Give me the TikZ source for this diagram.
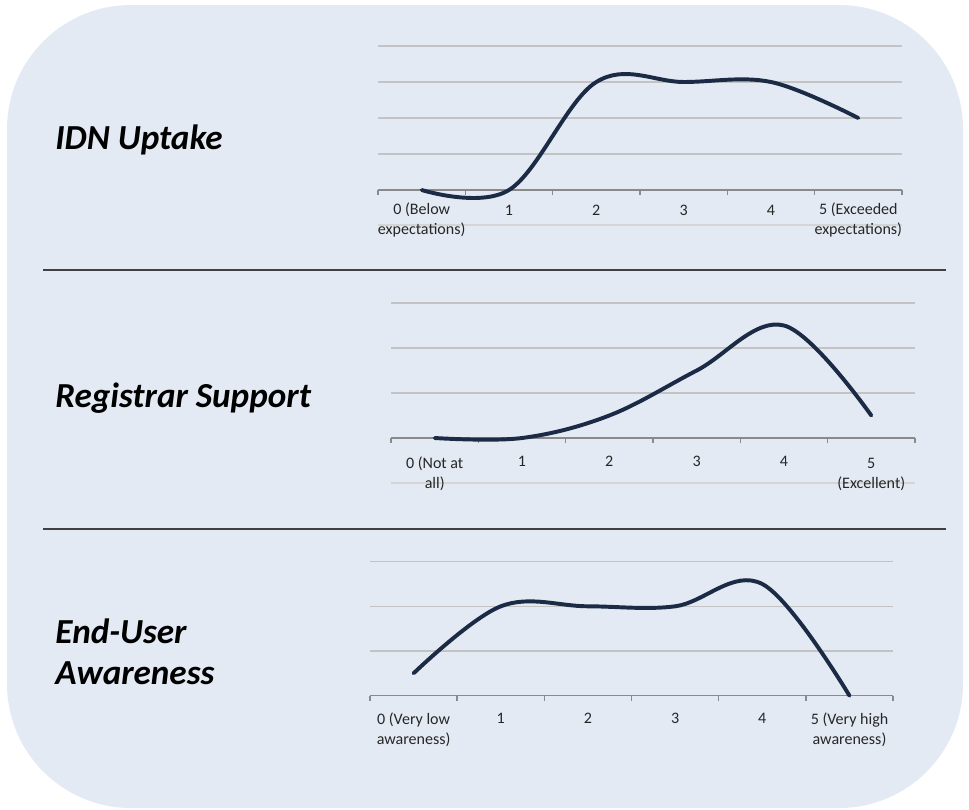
\documentclass[tikz,border=0pt]{standalone}
\usepackage{fontspec}
\setmainfont{Carlito}
\usepackage{tikz}
\usetikzlibrary{positioning}
\usepackage{xcolor}
\definecolor{panel}{HTML}{E4EAF4}
\definecolor{curve}{HTML}{1C2B45}
\definecolor{gridgray}{HTML}{C3C3C3}
\definecolor{axisgray}{HTML}{8A8A8A}

\begin{document}
\begin{tikzpicture}[x=0.025cm, y=-0.025cm,
	gridline/.style={draw=gridgray, line width=1.1pt},
	axisline/.style={draw=axisgray, line width=1.1pt},
	curveline/.style={draw=curve, line width=2.8pt, line cap=round},
	ticklabel/.style={font=\fontsize{11.4}{14.2}\selectfont, text=black!85, align=center, inner sep=0pt, anchor=base},
	heading/.style={font=\fontsize{25}{28.5}\selectfont\bfseries\itshape, inner sep=0pt, anchor=base west, align=left}]
\useasboundingbox (0,0) rectangle (969,810);
\fill[panel, rounded corners=3.1cm] (7,5) rectangle (963,808);

% separators
\draw[black!75, line width=1.4pt] (43,270) -- (946,270);
\draw[black!75, line width=1.4pt] (43,529) -- (946,529);

% headings
\node[heading] (uptake) at (55,149) {IDN Uptake};
\node[heading] (registrar) at (55,407) {Registrar Support};
\node[heading] (enduser) at (55,684) {End-User\\Awareness};

% IDN uptake chart
\foreach \gy in {46,82,118,154}
	\draw[gridline] (378,\gy) -- (902,\gy);
\draw[gridline, draw=gridgray!70] (378,225) -- (902,225);
\draw[axisline] (378,190) -- (902,190);
\foreach \i in {0,...,6}
	\draw[axisline] ({378+87.33*\i},190) -- ++(0,5);
\node[ticklabel] (ua) at (421.7,234) {0 (Below\\expectations)};
\node[ticklabel] (ub) at (509,215) {1};
\node[ticklabel] (uc) at (596.3,215) {2};
\node[ticklabel] (ud) at (683.7,215) {3};
\node[ticklabel] (ue) at (771,215) {4};
\node[ticklabel] (uf) at (858.3,234) {5 (Exceeded\\expectations)};
\draw[curveline] plot[smooth, tension=0.6] coordinates {(421.7,190) (509,190) (596.3,82) (683.7,82) (771,82) (858.3,118)};

% registrar support chart
\foreach \gy in {303,348,393}
	\draw[gridline] (391,\gy) -- (915,\gy);
\draw[gridline, draw=gridgray!70] (391,483) -- (915,483);
\draw[axisline] (391,438) -- (915,438);
\foreach \i in {0,...,6}
	\draw[axisline] ({391+87.33*\i},438) -- ++(0,5);
\node[ticklabel] (ra) at (434.7,488) {0 (Not at\\all)};
\node[ticklabel] (rb) at (522,466.5) {1};
\node[ticklabel] (rc) at (609.3,466.5) {2};
\node[ticklabel] (rd) at (696.7,466.5) {3};
\node[ticklabel] (re) at (784,466.5) {4};
\node[ticklabel] (rf) at (871.3,488) {5\\(Excellent)};
\draw[curveline] plot[smooth, tension=0.6] coordinates {(434.7,438) (522,438) (609.3,415.5) (696.7,370.5) (784,325.5) (871.3,415.5)};

% end-user awareness chart
\foreach \gy in {561.6,606.3,651}
	\draw[gridline] (370,\gy) -- (893,\gy);
\draw[axisline] (370,695.7) -- (893,695.7);
\foreach \i in {0,...,6}
	\draw[axisline] ({370+87.17*\i},695.7) -- ++(0,5);
\node[ticklabel] (aa) at (413.6,744) {0 (Very low\\awareness)};
\node[ticklabel] (ab) at (500.8,723.3) {1};
\node[ticklabel] (ac) at (588,723.3) {2};
\node[ticklabel] (ad) at (675.2,723.3) {3};
\node[ticklabel] (ae) at (762.3,723.3) {4};
\node[ticklabel] (af) at (849.5,744) {5 (Very high\\awareness)};
\draw[curveline] plot[smooth, tension=0.6] coordinates {(413.6,673.3) (500.8,606.3) (588,606.3) (675.2,606.3) (762.3,584) (849.5,695.7)};
\end{tikzpicture}
\end{document}
